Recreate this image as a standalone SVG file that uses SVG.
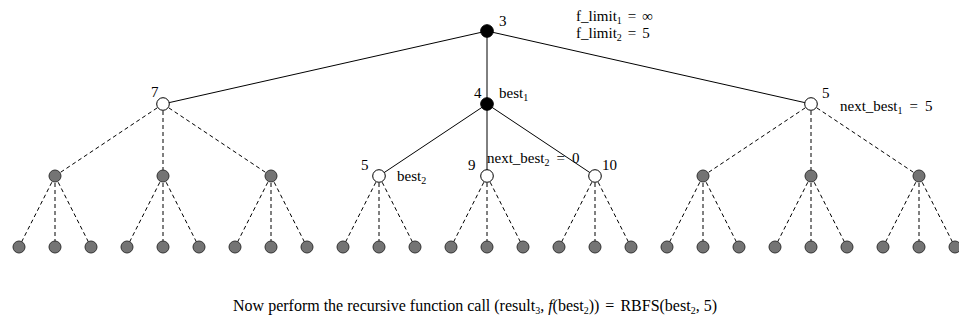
<svg xmlns="http://www.w3.org/2000/svg" width="959" height="320" viewBox="0 0 959 320">
<style>
.s{stroke:#000;stroke-width:1;fill:none}
.d{stroke:#000;stroke-width:1;fill:none;stroke-dasharray:4,3}
.b{fill:#000;stroke:#000;stroke-width:1}
.w{fill:#fff;stroke:#000;stroke-width:1}
.g{fill:#747474;stroke:#333;stroke-width:1}
text{font-family:"Liberation Serif","Times New Roman",serif;font-size:15px;fill:#000}
.sub{font-size:10px}
.cap{font-size:16px}
</style>
<g id="connectors">
<line class="s" x1="487" y1="31" x2="163" y2="104"/>
<line class="s" x1="487" y1="31" x2="487" y2="104"/>
<line class="s" x1="487" y1="31" x2="811" y2="104"/>
<line class="d" x1="163" y1="104" x2="55" y2="176"/>
<line class="d" x1="163" y1="104" x2="163" y2="176"/>
<line class="d" x1="163" y1="104" x2="271" y2="176"/>
<line class="s" x1="487" y1="104" x2="379" y2="176"/>
<line class="s" x1="487" y1="104" x2="487" y2="176"/>
<line class="s" x1="487" y1="104" x2="595" y2="176"/>
<line class="d" x1="811" y1="104" x2="703" y2="176"/>
<line class="d" x1="811" y1="104" x2="811" y2="176"/>
<line class="d" x1="811" y1="104" x2="919" y2="176"/>
<line class="d" x1="55" y1="176" x2="19" y2="247"/><line class="d" x1="55" y1="176" x2="55" y2="247"/><line class="d" x1="55" y1="176" x2="91" y2="247"/>
<line class="d" x1="163" y1="176" x2="127" y2="247"/><line class="d" x1="163" y1="176" x2="163" y2="247"/><line class="d" x1="163" y1="176" x2="199" y2="247"/>
<line class="d" x1="271" y1="176" x2="235" y2="247"/><line class="d" x1="271" y1="176" x2="271" y2="247"/><line class="d" x1="271" y1="176" x2="307" y2="247"/>
<line class="d" x1="379" y1="176" x2="343" y2="247"/><line class="d" x1="379" y1="176" x2="379" y2="247"/><line class="d" x1="379" y1="176" x2="415" y2="247"/>
<line class="d" x1="487" y1="176" x2="451" y2="247"/><line class="d" x1="487" y1="176" x2="487" y2="247"/><line class="d" x1="487" y1="176" x2="523" y2="247"/>
<line class="d" x1="595" y1="176" x2="559" y2="247"/><line class="d" x1="595" y1="176" x2="595" y2="247"/><line class="d" x1="595" y1="176" x2="631" y2="247"/>
<line class="d" x1="703" y1="176" x2="667" y2="247"/><line class="d" x1="703" y1="176" x2="703" y2="247"/><line class="d" x1="703" y1="176" x2="739" y2="247"/>
<line class="d" x1="811" y1="176" x2="775" y2="247"/><line class="d" x1="811" y1="176" x2="811" y2="247"/><line class="d" x1="811" y1="176" x2="847" y2="247"/>
<line class="d" x1="919" y1="176" x2="883" y2="247"/><line class="d" x1="919" y1="176" x2="919" y2="247"/><line class="d" x1="919" y1="176" x2="955" y2="247"/>
</g>
<g id="root"><circle class="b" cx="487" cy="31" r="6.3"/><text x="499" y="26">3</text></g>
<g id="n7"><circle class="w" cx="163" cy="104" r="6.3"/><text x="151" y="97">7</text></g>
<g id="n4"><circle class="b" cx="487" cy="104" r="6.3"/><text x="474" y="98">4</text><text x="499" y="98">best<tspan class="sub" dy="3">1</tspan></text></g>
<g id="n5r"><circle class="w" cx="811" cy="104" r="6.3"/><text x="822" y="98">5</text></g>
<g id="n5"><circle class="w" cx="379" cy="176" r="6.3"/><text x="361" y="170">5</text><text x="397" y="181">best<tspan class="sub" dy="3">2</tspan></text></g>
<g id="n9"><circle class="w" cx="487" cy="176" r="6.3"/><text x="468" y="170">9</text></g>
<g id="n10"><circle class="w" cx="595" cy="176" r="6.3"/><text x="602" y="170">10</text></g>
<g id="l2others">
<circle class="g" cx="55" cy="176" r="6"/><circle class="g" cx="163" cy="176" r="6"/><circle class="g" cx="271" cy="176" r="6"/>
<circle class="g" cx="703" cy="176" r="6"/><circle class="g" cx="811" cy="176" r="6"/><circle class="g" cx="919" cy="176" r="6"/>
</g>
<g id="leaves">
<circle class="g" cx="19" cy="247" r="6"/><circle class="g" cx="55" cy="247" r="6"/><circle class="g" cx="91" cy="247" r="6"/>
<circle class="g" cx="127" cy="247" r="6"/><circle class="g" cx="163" cy="247" r="6"/><circle class="g" cx="199" cy="247" r="6"/>
<circle class="g" cx="235" cy="247" r="6"/><circle class="g" cx="271" cy="247" r="6"/><circle class="g" cx="307" cy="247" r="6"/>
<circle class="g" cx="343" cy="247" r="6"/><circle class="g" cx="379" cy="247" r="6"/><circle class="g" cx="415" cy="247" r="6"/>
<circle class="g" cx="451" cy="247" r="6"/><circle class="g" cx="487" cy="247" r="6"/><circle class="g" cx="523" cy="247" r="6"/>
<circle class="g" cx="559" cy="247" r="6"/><circle class="g" cx="595" cy="247" r="6"/><circle class="g" cx="631" cy="247" r="6"/>
<circle class="g" cx="667" cy="247" r="6"/><circle class="g" cx="703" cy="247" r="6"/><circle class="g" cx="739" cy="247" r="6"/>
<circle class="g" cx="775" cy="247" r="6"/><circle class="g" cx="811" cy="247" r="6"/><circle class="g" cx="847" cy="247" r="6"/>
<circle class="g" cx="883" cy="247" r="6"/><circle class="g" cx="919" cy="247" r="6"/><circle class="g" cx="955" cy="247" r="6"/>
</g>
<g id="labels">
<text x="576" y="21">f_limit<tspan class="sub" dy="3">1</tspan><tspan dx="6" dy="-3">=</tspan><tspan dx="6">∞</tspan></text>
<text x="576" y="38">f_limit<tspan class="sub" dy="3">2</tspan><tspan dx="6" dy="-3">=</tspan><tspan dx="6">5</tspan></text>
<text x="840" y="111">next_best<tspan class="sub" dy="3">1</tspan><tspan dx="7" dy="-3">=</tspan><tspan dx="7">5</tspan></text>
<text x="487" y="163">next_best<tspan class="sub" dy="3">2</tspan><tspan dx="7" dy="-3">=</tspan><tspan dx="7">0</tspan></text>
<text class="cap" x="475" y="311" text-anchor="middle">Now perform the recursive function call (result<tspan class="sub" dy="3">3</tspan><tspan dy="-3">, </tspan><tspan font-style="italic">f</tspan>(best<tspan class="sub" dy="3">2</tspan><tspan dy="-3">))</tspan><tspan dx="6">=</tspan><tspan dx="6">RBFS(best</tspan><tspan class="sub" dy="3">2</tspan><tspan dy="-3">, 5)</tspan></text>
</g>
</svg>
